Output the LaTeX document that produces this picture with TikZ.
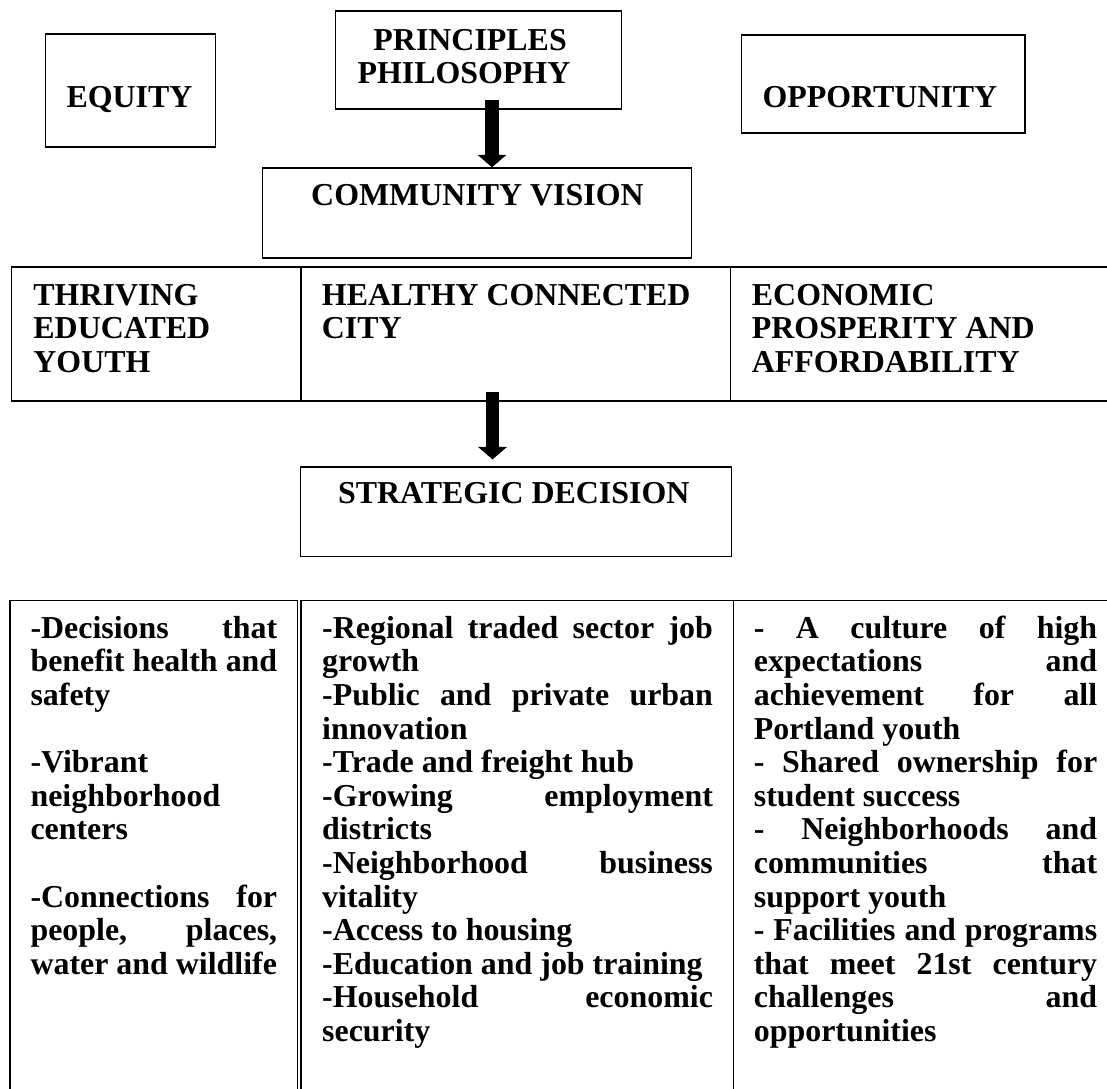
\documentclass[tikz,border=0pt]{standalone}
\usepackage{fontspec}
\setmainfont{Liberation Serif}
\usepackage{tikz}
\usetikzlibrary{arrows.meta}
\usetikzlibrary{fit}
\newcommand{\jl}[1]{\makebox[\hsize][s]{\spaceskip=0pt\xspaceskip=0pt #1}\\}

\begin{document}
\begin{tikzpicture}[x=0.376pt,y=-0.376pt,
	frame/.style={draw,line width=0.5pt,inner sep=0pt},
	txt/.style={anchor=base west,inner sep=0pt,align=justify,font=\bfseries\fontsize{12}{12.63}\selectfont},
	fatarrow/.style={line width=4.9pt,-{Triangle[width=10.6pt,length=4.7pt]}}]
		\useasboundingbox (0,0) rectangle (1107,1088);
%		top boxes
		\node[frame,fit={(45.7,34) (215.4,147)}] (equity) {};
		\node[frame,fit={(335.7,11) (621.4,109)}] (principles) {};
		\node[frame,fit={(741.4,35) (1025,133)}] (opportunity) {};
		\node[frame,fit={(262.5,168) (691.8,258)}] (vision) {};
		\node[txt,text width=60pt] (equitytxt) at (66,107) {EQUITY};
		\node[txt,text width=90pt] (principlestxt) at (357,50) {\hspace*{6pt}PRINCIPLES\\PHILOSOPHY};
		\node[txt,text width=95pt] (opportunitytxt) at (762,107) {OPPORTUNITY};
		\node[txt,text width=140pt] (visiontxt) at (310.7,205) {COMMUNITY VISION};
		\coordinate (a1) at (492,100);
		\draw[fatarrow] (a1) -- (a1 |- vision.north);
%		goals row
		\node[frame,fit={(11.8,267) (301,401)}] (youth) {};
		\node[frame,fit={(301,267) (730.4,401)}] (city) {};
		\node[frame,fit={(730.4,267) (1115,401)}] (economy) {};
		\node[txt,text width=100pt] (youthtxt) at (32.9,305) {THRIVING\\EDUCATED\\YOUTH};
		\node[txt,text width=150pt] (citytxt) at (321.4,305) {HEALTHY CONNECTED\\CITY};
		\node[txt,text width=120pt] (economytxt) at (751.4,305) {ECONOMIC\\PROSPERITY AND\\AFFORDABILITY};
		\node[frame,fit={(300.5,467) (731.5,556.7)}] (strategic) {};
		\node[txt,text width=140pt] (strategictxt) at (337.5,503) {STRATEGIC DECISION};
		\coordinate (a2) at (492.5,391.7);
		\draw[fatarrow] (a2) -- ([yshift=2.6pt]a2 |- strategic.north);
%		decisions table
		\node[frame,fit={(10,600.7) (297.5,1100)}] (health) {};
		\node[frame,fit={(301,600.7) (733.3,1100)}] (jobs) {};
		\node[frame,fit={(733.3,600.7) (1115,1100)}] (school) {};
		\node[txt,text width=92.75pt] (healthtxt) at (30,638.3) {%
			\jl{-Decisions that}\jl{benefit health and}safety\\[12.63pt]
			-Vibrant\\neighborhood\\centers\\[12.63pt]
			\jl{-Connections for}\jl{people, places,}water and wildlife};
		\node[txt,text width=146.9pt] (jobstxt) at (321.7,638.3) {%
			\jl{-Regional traded sector job}growth\\
			\jl{-Public and private urban}innovation\\
			-Trade and freight hub\\
			\jl{-Growing employment}districts\\
			\jl{-Neighborhood business}vitality\\
			-Access to housing\\
			-Education and job training\\
			\jl{-Household economic}security};
		\node[txt,text width=129.1pt] (schooltxt) at (753.3,638.3) {%
			\jl{- A culture of high}\jl{expectations and}\jl{achievement for all}Portland youth\\
			\jl{- Shared ownership for}student success\\
			\jl{- Neighborhoods and}\jl{communities that}support youth\\
			\jl{- Facilities and programs}\jl{that meet 21st century}\jl{challenges and}opportunities};
\end{tikzpicture}
\end{document}
